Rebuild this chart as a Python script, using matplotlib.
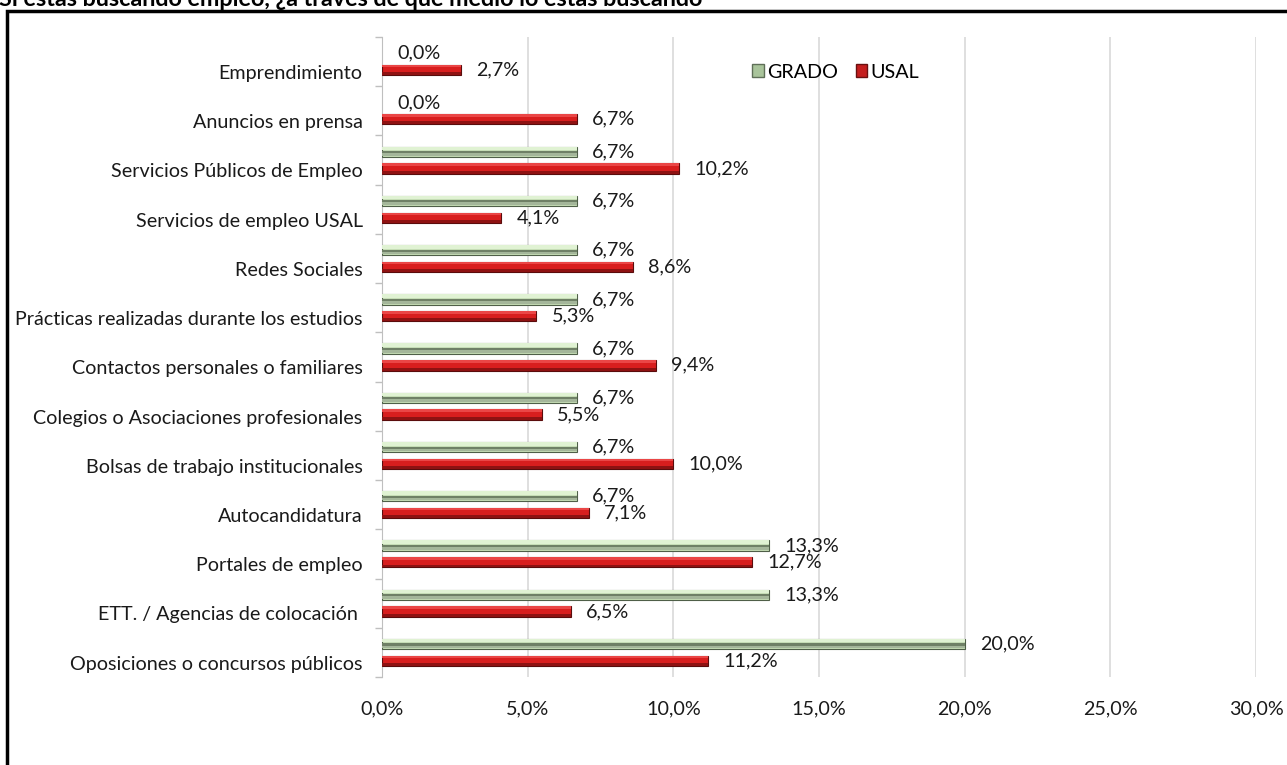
import matplotlib
matplotlib.use("Agg")
import matplotlib.pyplot as plt
import numpy as np
from matplotlib.patches import Patch, Rectangle
from matplotlib.ticker import FuncFormatter

# data, top to bottom as in the chart
categories = [
    "Emprendimiento",
    "Anuncios en prensa",
    "Servicios Públicos de Empleo",
    "Servicios de empleo USAL",
    "Redes Sociales",
    "Prácticas realizadas durante los estudios",
    "Contactos personales o familiares",
    "Colegios o Asociaciones profesionales",
    "Bolsas de trabajo institucionales",
    "Autocandidatura",
    "Portales de empleo",
    "ETT. / Agencias de colocación ",
    "Oposiciones o concursos públicos",
]
grado = [0.0, 0.0, 6.7, 6.7, 6.7, 6.7, 6.7, 6.7, 6.7, 6.7, 13.3, 13.3, 20.0]
usal = [2.7, 6.7, 10.2, 4.1, 8.6, 5.3, 9.4, 5.5, 10.0, 7.1, 12.7, 6.5, 11.2]
x_ticks = [0, 5, 10, 15, 20, 25, 30]
title = "Si estás buscando empleo, ¿a través de qué medio lo estás buscando"

plt.rcParams["font.family"] = ["Lato", "DejaVu Sans"]
FS = 14.2


def pct(v):
    return f"{v:.1f}%".replace(".", ",")


def shaded_barh(ax, ypos, values, height, layers, edge):
    # fake the excel bevel by stacking thinner bars of different colours
    edges = [edge if v > 0 else "none" for v in values]
    ax.barh(ypos, values, height=height, color=layers[0][2], edgecolor=edges,
            linewidth=0.8, zorder=3)
    for lo, hi, col in layers[1:]:
        h = height * (hi - lo)
        shift = height * ((lo + hi) / 2 - 0.5)  # y axis is inverted: + goes down
        ax.barh(ypos + shift, values, height=h, color=col, linewidth=0, zorder=4)


fig = plt.figure(figsize=(12.87, 7.65), dpi=100)
ax = fig.add_axes([382 / 1287, 1 - 677 / 765, 874 / 1287, 640 / 765])

y = np.arange(len(categories))
bar_h = 0.21
off = 0.17

# fractions from the top of the bar (0) to its bottom (1)
green_layers = [
    (0.0, 1.0, "#c6ddb6"),
    (0.0, 0.35, "#e0f2d3"),
    (0.45, 0.65, "#6f8066"),
    (0.65, 0.9, "#a4b69a"),
]
red_layers = [
    (0.0, 1.0, "#d81e1e"),
    (0.0, 0.25, "#ea4646"),
    (0.72, 1.0, "#8e1212"),
]

shaded_barh(ax, y - off, grado, bar_h, green_layers, "#4f5f48")
shaded_barh(ax, y + off, usal, bar_h, red_layers, "#5a0c0c")

# value labels
for i, v in enumerate(grado):
    ax.annotate(pct(v), (v, i - off), xytext=(15, 0), textcoords="offset pixels",
                va="center", ha="left", fontsize=FS, color="#1a1a1a")
for i, v in enumerate(usal):
    ax.annotate(pct(v), (v, i + off), xytext=(15, 0), textcoords="offset pixels",
                va="center", ha="left", fontsize=FS, color="#1a1a1a")

ax.set_xlim(0, 30)
ax.set_ylim(len(categories) - 0.5, -0.5)
ax.set_xticks(x_ticks)
ax.xaxis.set_major_formatter(FuncFormatter(lambda v, p: pct(v)))
ax.tick_params(axis="x", length=0, pad=17, labelsize=FS, labelcolor="#1a1a1a")

ax.set_yticks(y + off + 0.04)
ax.set_yticklabels(categories)
ax.tick_params(axis="y", which="major", length=0, pad=14, labelsize=FS, labelcolor="#1a1a1a")
ax.set_yticks(np.arange(len(categories) + 1) - 0.5, minor=True)
ax.tick_params(axis="y", which="minor", length=5, color="#bfbfbf", width=1)

ax.grid(axis="x", color="#d9d9d9", linewidth=1.2, zorder=0)
ax.set_axisbelow(True)
for s in ["top", "right", "bottom"]:
    ax.spines[s].set_visible(False)
ax.spines["left"].set_color("#bfbfbf")

handles = [Patch(facecolor="#a9c49b", edgecolor="#5f6f58"),
           Patch(facecolor="#c41e1e", edgecolor="#6a1010")]
ax.legend(handles, ["GRADO", "USAL"], ncol=2, frameon=False, loc="center",
          bbox_to_anchor=(0.519, 0.945), fontsize=FS, handlelength=0.6,
          handleheight=0.6, handletextpad=0.15, columnspacing=0.9)

# outer frame and clipped title, as in the source screenshot
fig.patches.append(Rectangle((7 / 1287, -0.05), 1.1, 1 - 11 / 765 + 0.05,
                             transform=fig.transFigure, fill=False,
                             edgecolor="black", linewidth=2.5))
fig.text(-1 / 1287, 1 - 6 / 765, title, fontsize=16.8, fontweight="bold",
         ha="left", va="baseline")

fig.savefig("out.png", dpi=100)
